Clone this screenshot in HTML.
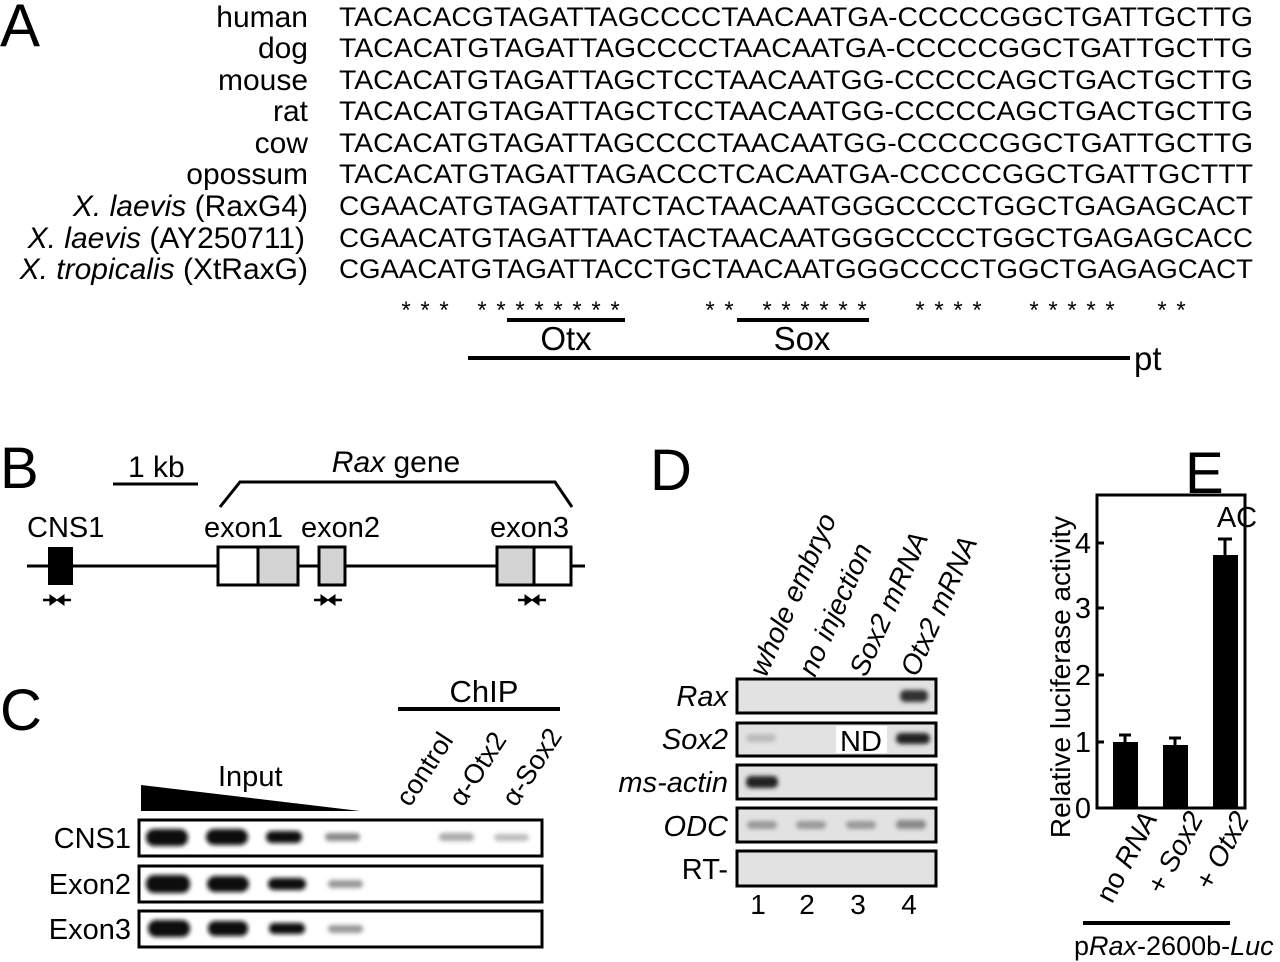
<!DOCTYPE html>
<html><head><meta charset="utf-8"><style>
html,body{margin:0;padding:0;background:#fff}
svg{display:block}
text{font-family:"Liberation Sans",sans-serif;fill:#000}
.seq{font-family:"Liberation Mono",monospace;font-size:27px}
</style></head><body>
<svg width="1280" height="962" viewBox="0 0 1280 962" xmlns="http://www.w3.org/2000/svg">
<defs>
<filter id="bl" x="-30%" y="-60%" width="160%" height="220%"><feGaussianBlur stdDeviation="2"/></filter>
</defs>
<!-- Panel A -->
<text x="0" y="46" font-size="60">A</text>
<g font-size="30" text-anchor="end">
<text x="308" y="27">human</text>
<text x="308" y="58">dog</text>
<text x="308" y="90">mouse</text>
<text x="308" y="121">rat</text>
<text x="308" y="153">cow</text>
<text x="308" y="184">opossum</text>
<text x="308" y="216"><tspan font-style="italic">X. laevis</tspan> (RaxG4)</text>
<text x="305" y="248"><tspan font-style="italic">X. laevis</tspan> (AY250711)</text>
<text x="308" y="279"><tspan font-style="italic">X. tropicalis</tspan> (XtRaxG)</text>
</g>
<g class="seq">
<text x="339" y="26" textLength="914" lengthAdjust="spacingAndGlyphs">TACACACGTAGATTAGCCCCTAACAATGA-CCCCCGGCTGATTGCTTG</text>
<text x="339" y="57" textLength="914" lengthAdjust="spacingAndGlyphs">TACACATGTAGATTAGCCCCTAACAATGA-CCCCCGGCTGATTGCTTG</text>
<text x="339" y="89" textLength="914" lengthAdjust="spacingAndGlyphs">TACACATGTAGATTAGCTCCTAACAATGG-CCCCCAGCTGACTGCTTG</text>
<text x="339" y="120" textLength="914" lengthAdjust="spacingAndGlyphs">TACACATGTAGATTAGCTCCTAACAATGG-CCCCCAGCTGACTGCTTG</text>
<text x="339" y="152" textLength="914" lengthAdjust="spacingAndGlyphs">TACACATGTAGATTAGCCCCTAACAATGG-CCCCCGGCTGATTGCTTG</text>
<text x="339" y="183" textLength="914" lengthAdjust="spacingAndGlyphs">TACACATGTAGATTAGACCCTCACAATGA-CCCCCGGCTGATTGCTTT</text>
<text x="339" y="215" textLength="914" lengthAdjust="spacingAndGlyphs">CGAACATGTAGATTATCTACTAACAATGGGCCCCTGGCTGAGAGCACT</text>
<text x="339" y="247" textLength="914" lengthAdjust="spacingAndGlyphs">CGAACATGTAGATTAACTACTAACAATGGGCCCCTGGCTGAGAGCACC</text>
<text x="339" y="278" textLength="914" lengthAdjust="spacingAndGlyphs">CGAACATGTAGATTACCTGCTAACAATGGGCCCCTGGCTGAGAGCACT</text>
</g>
<g font-size="24" text-anchor="middle">
<text x="406" y="318">*</text><text x="425" y="318">*</text><text x="444" y="318">*</text>
<text x="482" y="318">*</text><text x="501" y="318">*</text><text x="520" y="318">*</text><text x="539" y="318">*</text><text x="558" y="318">*</text><text x="577" y="318">*</text><text x="596" y="318">*</text><text x="615" y="318">*</text>
<text x="710" y="318">*</text><text x="729" y="318">*</text>
<text x="767" y="318">*</text><text x="786" y="318">*</text><text x="805" y="318">*</text><text x="824" y="318">*</text><text x="843" y="318">*</text><text x="862" y="318">*</text>
<text x="920" y="318">*</text><text x="939" y="318">*</text><text x="958" y="318">*</text><text x="977" y="318">*</text>
<text x="1034" y="318">*</text><text x="1053" y="318">*</text><text x="1072" y="318">*</text><text x="1091" y="318">*</text><text x="1110" y="318">*</text>
<text x="1162" y="318">*</text><text x="1181" y="318">*</text>
</g>
<g stroke="#000" stroke-width="4">
<line x1="507" y1="320" x2="625" y2="320"/>
<line x1="737" y1="320" x2="869" y2="320"/>
<line x1="468" y1="358" x2="1130" y2="358"/>
</g>
<text x="566" y="350" font-size="33" text-anchor="middle">Otx</text>
<text x="802" y="350" font-size="33" text-anchor="middle">Sox</text>
<text x="1134" y="370" font-size="33">pt</text>

<!-- Panel B -->
<text x="0" y="488" font-size="58">B</text>
<line x1="113" y1="484" x2="198" y2="484" stroke="#000" stroke-width="3"/>
<text x="128" y="477" font-size="30">1 kb</text>
<text x="396" y="472" font-size="30" text-anchor="middle"><tspan font-style="italic">Rax</tspan> gene</text>
<polyline points="220,507 240,482 555,482 572,507" fill="none" stroke="#000" stroke-width="3"/>
<line x1="27" y1="566" x2="585" y2="566" stroke="#000" stroke-width="3"/>
<rect x="48" y="547" width="25" height="38" fill="#000"/>
<g stroke="#000" stroke-width="3">
<rect x="218" y="547" width="40" height="38" fill="#fff"/>
<rect x="258" y="547" width="40" height="38" fill="#d4d4d4"/>
<rect x="319" y="547" width="26" height="38" fill="#d4d4d4"/>
<rect x="497" y="547" width="37" height="38" fill="#d4d4d4"/>
<rect x="534" y="547" width="37" height="38" fill="#fff"/>
</g>
<g font-size="29">
<text x="27" y="537">CNS1</text>
<text x="204" y="537">exon1</text>
<text x="301" y="537">exon2</text>
<text x="490" y="537">exon3</text>
</g>
<g fill="#000" stroke="#000" stroke-width="2.5">
<path d="M43,600 h8 M63,600 h8" fill="none"/><path d="M50,595 l7,5 l-7,5z M64,595 l-7,5 l7,5z" stroke-width="1"/>
<path d="M314,600 h8 M334,600 h8" fill="none"/><path d="M321,595 l7,5 l-7,5z M335,595 l-7,5 l7,5z" stroke-width="1"/>
<path d="M518,600 h8 M538,600 h8" fill="none"/><path d="M525,595 l7,5 l-7,5z M539,595 l-7,5 l7,5z" stroke-width="1"/>
</g>

<!-- Panel C -->
<text x="0" y="730" font-size="58">C</text>
<text x="484" y="702" font-size="31" text-anchor="middle">ChIP</text>
<line x1="398" y1="709" x2="560" y2="709" stroke="#000" stroke-width="4"/>
<g font-size="27">
<text transform="translate(410,808) rotate(-57)">control</text>
<text transform="translate(463,808) rotate(-57)">α-Otx2</text>
<text transform="translate(516,808) rotate(-57)">α-Sox2</text>
</g>
<text x="218" y="786" font-size="29">Input</text>
<polygon points="141,785 141,811 360,811" fill="#000"/>
<g font-size="29" text-anchor="end">
<text x="131" y="848">CNS1</text>
<text x="131" y="894">Exon2</text>
<text x="131" y="939">Exon3</text>
</g>
<g stroke="#000" stroke-width="3" fill="#fff">
<rect x="139" y="820" width="403" height="36"/>
<rect x="139" y="866" width="403" height="36"/>
<rect x="139" y="911" width="403" height="36"/>
</g>
<g fill="#111" filter="url(#bl)">
<rect x="146" y="829" width="42" height="17" rx="8"/>
<rect x="206" y="829" width="42" height="16" rx="8"/>
<rect x="266" y="831" width="36" height="12" rx="6"/>
<rect x="325" y="833" width="35" height="8" rx="4" fill="#888"/>
<rect x="439" y="833" width="35" height="8" rx="4" fill="#aaa"/>
<rect x="494" y="834" width="35" height="7" rx="4" fill="#bbb"/>
<rect x="146" y="875" width="44" height="18" rx="8"/>
<rect x="207" y="876" width="42" height="16" rx="8"/>
<rect x="268" y="878" width="38" height="12" rx="6"/>
<rect x="328" y="880" width="35" height="8" rx="4" fill="#999"/>
<rect x="148" y="920" width="42" height="17" rx="8"/>
<rect x="208" y="921" width="40" height="15" rx="7"/>
<rect x="269" y="923" width="36" height="11" rx="5"/>
<rect x="328" y="925" width="35" height="8" rx="4" fill="#999"/>
</g>

<!-- Panel D -->
<text x="650" y="490" font-size="58">D</text>
<g font-size="28" font-style="italic">
<text transform="translate(766,678) rotate(-66)">whole embryo</text>
<text transform="translate(815,678) rotate(-66)">no injection</text>
<text transform="translate(866,678) rotate(-66)">Sox2 mRNA</text>
<text transform="translate(917,678) rotate(-66)">Otx2 mRNA</text>
</g>
<g font-size="29" text-anchor="end">
<text x="728" y="706" font-style="italic">Rax</text>
<text x="728" y="749" font-style="italic">Sox2</text>
<text x="728" y="792" font-style="italic">ms-actin</text>
<text x="728" y="836" font-style="italic">ODC</text>
<text x="728" y="879">RT-</text>
</g>
<g stroke="#000" stroke-width="3" fill="#e2e2e2">
<rect x="737" y="679" width="199" height="34"/>
<rect x="737" y="723" width="199" height="33"/>
<rect x="737" y="765" width="199" height="34"/>
<rect x="737" y="808" width="199" height="34"/>
<rect x="737" y="851" width="199" height="35"/>
</g>
<g filter="url(#bl)">
<rect x="900" y="690" width="28" height="12" rx="5" fill="#333"/>
<rect x="746" y="734" width="30" height="8" rx="4" fill="#bbb"/>
<rect x="896" y="733" width="34" height="11" rx="5" fill="#222"/>
<rect x="746" y="776" width="32" height="12" rx="5" fill="#222"/>
<rect x="747" y="821" width="30" height="8" rx="4" fill="#999"/>
<rect x="796" y="821" width="30" height="8" rx="4" fill="#999"/>
<rect x="846" y="821" width="30" height="8" rx="4" fill="#999"/>
<rect x="896" y="820" width="30" height="9" rx="4" fill="#888"/>
</g>
<rect x="836" y="726" width="51" height="27" fill="#fff"/>
<text x="861" y="751" font-size="29" text-anchor="middle">ND</text>
<g font-size="28" text-anchor="middle">
<text x="758" y="914">1</text>
<text x="807" y="914">2</text>
<text x="858" y="914">3</text>
<text x="909" y="914">4</text>
</g>

<!-- Panel E -->
<text x="1185" y="493" font-size="58">E</text>
<rect x="1097" y="495" width="148" height="313" fill="none" stroke="#000" stroke-width="3"/>
<g stroke="#000" stroke-width="3">
<line x1="1097" y1="742" x2="1104" y2="742"/>
<line x1="1097" y1="675" x2="1104" y2="675"/>
<line x1="1097" y1="608" x2="1104" y2="608"/>
<line x1="1097" y1="543" x2="1104" y2="543"/>
</g>
<g font-size="29" text-anchor="end">
<text x="1091" y="818">0</text>
<text x="1091" y="752">1</text>
<text x="1091" y="685">2</text>
<text x="1091" y="618">3</text>
<text x="1091" y="553">4</text>
</g>
<text transform="translate(1070,677) rotate(-90)" font-size="28" text-anchor="middle">Relative luciferase activity</text>
<text x="1237" y="527" font-size="29" text-anchor="middle">AC</text>
<g fill="#000">
<rect x="1113" y="742" width="25" height="66"/>
<rect x="1163" y="745" width="25" height="63"/>
<rect x="1213" y="555" width="25" height="253"/>
</g>
<g stroke="#000" stroke-width="3">
<line x1="1125" y1="742" x2="1125" y2="735"/><line x1="1119" y1="735" x2="1131" y2="735"/>
<line x1="1175" y1="745" x2="1175" y2="738"/><line x1="1169" y1="738" x2="1181" y2="738"/>
<line x1="1225" y1="555" x2="1225" y2="539"/><line x1="1218" y1="539" x2="1232" y2="539"/>
</g>
<g font-size="28">
<text transform="translate(1158,818) rotate(-62)" text-anchor="end"><tspan>no </tspan><tspan font-style="italic">RNA</tspan></text>
<text transform="translate(1204,818) rotate(-62)" text-anchor="end">+ <tspan font-style="italic">Sox2</tspan></text>
<text transform="translate(1250,818) rotate(-62)" text-anchor="end">+ <tspan font-style="italic">Otx2</tspan></text>
</g>
<line x1="1083" y1="923" x2="1230" y2="923" stroke="#000" stroke-width="4"/>
<text x="1074" y="955" font-size="27">p<tspan font-style="italic">Rax</tspan>-2600b-<tspan font-style="italic">Luc</tspan></text>
</svg>
</body></html>
